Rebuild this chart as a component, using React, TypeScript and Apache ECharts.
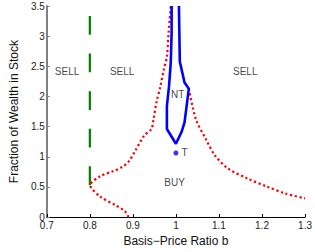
import React, { useEffect, useRef } from "react";
import * as echarts from "echarts";

const xTicks = [0.7, 1.3, 0.1];
const yTicks = [0, 3.5, 0.5];

// red dotted boundary, left branch (buy/sell boundary through the kink at b=0.8)
const redLeft: [number, number][] = [
  [0.89, 0], [0.881, 0.1], [0.859, 0.2], [0.823, 0.345], [0.801, 0.53],
  [0.823, 0.674], [0.852, 0.756], [0.875, 0.83], [0.89, 0.92], [0.904, 1.08],
  [0.926, 1.35], [0.943, 1.46], [0.948, 1.63], [0.955, 1.91], [0.964, 2.17],
  [0.972, 2.45], [0.979, 2.66], [0.983, 3.06], [0.988, 3.5],
];
// red dotted boundary, right branch
const redRight: [number, number][] = [
  [1.03, 2.13], [1.046, 1.63], [1.069, 1.3], [1.091, 1.02], [1.121, 0.805],
  [1.166, 0.64], [1.21, 0.51], [1.255, 0.39], [1.3, 0.31],
];
// blue no-trade region
const ntRegion: [number, number][] = [
  [0.99, 3.5], [0.99, 3.06], [0.988, 2.56], [0.984, 2.17], [0.979, 1.84],
  [0.979, 1.46], [1.0, 1.216], [1.013, 1.41], [1.02, 1.57], [1.03, 2.13],
  [1.02, 2.23], [1.009, 2.58], [1.007, 3.5],
];
// green dashed vertical line
const greenLine: [number, number][] = [[0.8, 0.53], [0.8, 3.5]];
// target point
const targetPoint: [number, number][] = [[1.0, 1.063]];
// region labels
const regionLabels: { name: string; value: [number, number] }[] = [
  { name: "SELL", value: [0.747, 2.41] },
  { name: "SELL", value: [0.875, 2.41] },
  { name: "SELL", value: [1.161, 2.41] },
  { name: "NT", value: [1.004, 2.03] },
  { name: "BUY", value: [0.997, 0.57] },
];

const FONT = "Liberation Sans, Arial, Helvetica, sans-serif";

export default function App() {
  const ref = useRef<HTMLDivElement>(null);
  useEffect(() => {
    if (!ref.current) return;
    const chart = echarts.init(ref.current, undefined, { renderer: "svg" });
    chart.setOption({
      animation: false,
      backgroundColor: "#ffffff",
      textStyle: { fontFamily: FONT },
      grid: { left: 42, right: 5, top: 6, bottom: 33, containLabel: false },
      xAxis: {
        type: "value",
        min: xTicks[0],
        max: xTicks[1],
        interval: xTicks[2],
        name: "Basis\u2212Price Ratio b",
        nameLocation: "middle",
        nameGap: 16,
        nameTextStyle: { fontSize: 12, color: "#111", fontFamily: FONT },
        axisLine: { show: true, lineStyle: { color: "#000", width: 1 } },
        axisTick: { show: true, inside: true, length: 3, lineStyle: { color: "#000" } },
        axisLabel: {
          fontSize: 10, color: "#222", margin: 3, fontFamily: FONT,
          formatter: (v: number) => String(Math.round(v * 10) / 10),
        },
        splitLine: { show: false },
      },
      yAxis: {
        type: "value",
        min: yTicks[0],
        max: yTicks[1],
        interval: yTicks[2],
        name: "Fraction of Wealth in Stock",
        nameLocation: "middle",
        nameGap: 19,
        nameTextStyle: { fontSize: 12, color: "#111", fontFamily: FONT },
        axisLine: { show: true, lineStyle: { color: "#808080", width: 2 } },
        axisTick: { show: true, inside: true, length: 3, lineStyle: { color: "#808080" } },
        axisLabel: {
          fontSize: 10, color: "#222", margin: 2, fontFamily: FONT,
          formatter: (v: number) => String(Math.round(v * 10) / 10),
        },
        splitLine: { show: false },
      },
      series: [
        {
          type: "line",
          data: greenLine,
          showSymbol: false,
          lineStyle: { color: "#008000", width: 2.2, type: [18.8, 18.8], cap: "butt" },
        },
        {
          type: "line",
          data: redLeft,
          showSymbol: false,
          smooth: 0.3,
          lineStyle: { color: "#ff0000", width: 2.2, type: [2.2, 2.6], cap: "butt" },
        },
        {
          type: "line",
          data: redRight,
          showSymbol: false,
          smooth: 0.3,
          lineStyle: { color: "#ff0000", width: 2.2, type: [2.2, 2.6], cap: "butt" },
        },
        {
          type: "line",
          data: ntRegion,
          showSymbol: false,
          lineStyle: { color: "#0000ff", width: 2.6 },
        },
        {
          type: "scatter",
          data: targetPoint,
          symbol: "circle",
          symbolSize: 5,
          itemStyle: { color: "#0000ff" },
          label: {
            show: true, position: "right", distance: 3, formatter: "T",
            fontSize: 10, color: "#111", fontFamily: FONT,
          },
        },
        {
          type: "scatter",
          data: regionLabels,
          symbolSize: 0,
          label: {
            show: true, position: "inside", formatter: "{b}",
            fontSize: 10, color: "#111", fontFamily: FONT,
          },
        },
      ],
    });
    return () => chart.dispose();
  }, []);
  return (
    <div
      ref={ref}
      style={{ position: "absolute", left: 0, top: 0, width: 315, height: 252 }}
    />
  );
}
